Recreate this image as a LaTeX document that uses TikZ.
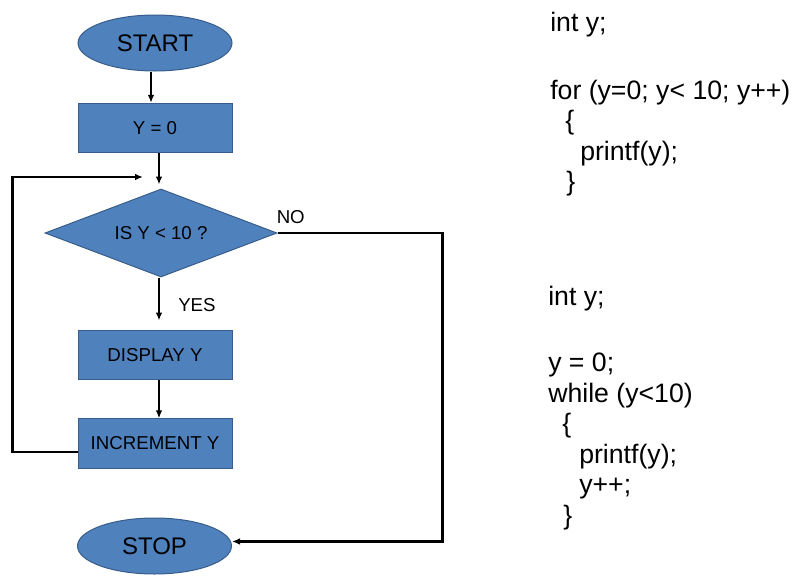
\documentclass[tikz,border=0pt]{standalone}
\usepackage{fontspec}
\setmainfont{Liberation Sans}
\usetikzlibrary{shapes.geometric,arrows.meta}
\definecolor{boxfill}{HTML}{4F81BD}
\definecolor{boxline}{HTML}{385D8A}
\tikzset{
  terminal/.style={ellipse, draw=boxline, fill=boxfill, line width=0.75pt,
    minimum width=115.5pt, minimum height=42pt, font=\fontsize{18}{20}\selectfont},
  process/.style={rectangle, draw=boxline, fill=boxfill, line width=0.75pt,
    minimum width=115.5pt, minimum height=37pt, font=\fontsize{14}{16}\selectfont},
  decision/.style={diamond, aspect=2.64, draw=boxline, fill=boxfill, line width=0.75pt,
    inner sep=0pt, minimum width=174pt, minimum height=66pt, font=\fontsize{14}{16}\selectfont},
  flow/.style={-{Latex[length=6pt,width=5pt]}, line width=1.9pt},
  answer/.style={inner sep=0pt, font=\fontsize{14}{16}\selectfont},
  code/.style={anchor=base west, inner sep=0pt, font=\fontsize{20}{24}\selectfont}
}
\begin{document}
\begin{tikzpicture}[x=0.75pt, y=-0.75pt]
        \useasboundingbox (0,0) rectangle (797,579);
        % flowchart
        \node[terminal] (start) at (155, 43) {START};
        \node[process] (yzero) at (155, 128) {Y = 0};
        \node[decision] (check) at (161, 233) {IS Y < 10 ?};
        \node[process] (display) at (155, 355) {DISPLAY Y};
        \node[process] (incr) at (155, 443.5) {INCREMENT Y};
        \node[terminal] (stop) at (154.5, 546) {STOP};
        \coordinate (back) at (143, 177);
        \draw[flow] ([xshift=-3pt]start.south) to ([xshift=-3pt]yzero.north);
        \draw[flow] ([xshift=3pt]yzero.south) to ([xshift=-1.5pt,yshift=3pt]check.north);
        \draw[flow] ([xshift=-1.5pt]check.south) to node[pos=0.64, anchor=west, xshift=13.5pt, answer]{YES} ([xshift=3pt,yshift=7pt]display.north);
        \draw[flow] ([xshift=3pt]display.south) to ([xshift=3pt]incr.north);
        \draw[flow] ([yshift=-6.4pt]incr.west) -- ++(-65, 0) |- (back);
        \draw[flow] (check.east) -- node[at start, anchor=south west, xshift=-1.5pt, yshift=6pt, answer]{NO} ++(165, 0) |- ([yshift=3.4pt]stop.east);
        % for loop
        \node[code] (f1) at (550, 31.7) {int y;};
        \node[code] (f2) at (550, 99) {for (y=0; y< 10; y++)};
        \node[code] (f3) at (565, 129.5) {\{};
        \node[code] (f4) at (580, 160) {printf(y);};
        \node[code] (f5) at (566, 190.5) {\}};
        % while loop
        \node[code] (w1) at (548, 305) {int y;};
        \node[code] (w2) at (548, 371) {y = 0;};
        \node[code] (w3) at (548, 402) {while (y<10)};
        \node[code] (w4) at (562, 432) {\{};
        \node[code] (w5) at (579, 463) {printf(y);};
        \node[code] (w6) at (579, 493) {y++;};
        \node[code] (w7) at (563, 524) {\}};
      \end{tikzpicture}
\end{document}
